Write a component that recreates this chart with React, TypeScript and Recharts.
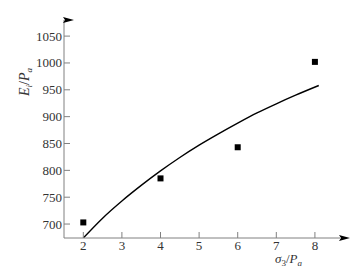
import { ComposedChart, Line, Scatter, XAxis, YAxis } from "recharts";

// measured points (sigma3/Pa vs Ei/Pa)
const pointX = [2, 4, 6, 8];
const pointY = [703, 785, 843, 1002];

// fitted curve
const curveX = [2, 2.5, 3, 3.5, 4, 4.5, 5, 5.5, 6, 6.5, 7, 7.5, 8.1];
const curveY = [674, 711, 743, 772, 799, 824, 847, 868, 888, 907, 924, 940, 958];

const xTicks = [2, 3, 4, 5, 6, 7, 8];
const yTicks = [700, 750, 800, 850, 900, 950, 1000, 1050];

const points = pointX.map((x, i) => ({ x, y: pointY[i] }));
const curve = curveX.map((x, i) => ({ x, y: curveY[i] }));

const axisColor = "#808080";
const textColor = "#333";
const font = "'Liberation Serif', 'DejaVu Serif', serif";

const XTick = (props: any) => {
  const { x, y, payload } = props;
  return (
    <g>
      <line x1={x} y1={y} x2={x} y2={y - 6} stroke={axisColor} />
      <text x={x} y={y + 12} textAnchor="middle" fill={textColor} fontSize={13} style={{ fontFamily: font }}>
        {payload.value}
      </text>
    </g>
  );
};

const YTick = (props: any) => {
  const { x, y, payload } = props;
  return (
    <g>
      <line x1={x} y1={y} x2={x + 6} y2={y} stroke={axisColor} />
      <text x={x - 2} y={y + 4.5} textAnchor="end" fill={textColor} fontSize={13} style={{ fontFamily: font }}>
        {payload.value}
      </text>
    </g>
  );
};

const Square = (props: any) => {
  const { cx, cy } = props;
  return <rect x={cx - 3} y={cy - 3} width={6} height={6} fill="#000" />;
};

const subStyle = { fontSize: 9, verticalAlign: "-3px", lineHeight: 0 };

export default function App() {
  return (
    <div style={{ position: "absolute", left: 0, top: 0, width: 357, height: 267, background: "#fff" }}>
      <svg width={0} height={0} style={{ position: "absolute" }}>
        <defs>
          <marker id="arrowUp" markerUnits="userSpaceOnUse" markerWidth={8} markerHeight={12} refX={4} refY={10} orient="auto">
            <path d="M4,0 L7,11 L4,9 L1,11 Z" fill="#000" />
          </marker>
          <marker id="arrowRight" markerUnits="userSpaceOnUse" markerWidth={12} markerHeight={8} refX={2} refY={4} orient="auto">
            <path d="M12,4 L1,1 L3,4 L1,7 Z" fill="#000" />
          </marker>
        </defs>
      </svg>
      <ComposedChart width={357} height={267} margin={{ top: 20, right: 17, bottom: 0, left: 0 }}>
        <XAxis
          type="number"
          dataKey="x"
          domain={[1.5, 8.65]}
          ticks={xTicks}
          allowDataOverflow
          height={29}
          tickSize={0}
          tickMargin={0}
          tickLine={false}
          tick={<XTick />}
          axisLine={{ stroke: axisColor, markerEnd: "url(#arrowRight)" }}
        />
        <YAxis
          type="number"
          dataKey="y"
          domain={[674, 1080]}
          ticks={yTicks}
          allowDataOverflow
          width={64}
          tickSize={0}
          tickMargin={0}
          tickLine={false}
          tick={<YTick />}
          axisLine={{ stroke: axisColor, markerStart: "url(#arrowUp)" }}
        />
        <Line
          data={curve}
          dataKey="y"
          type="monotone"
          stroke="#000"
          strokeWidth={1.4}
          dot={false}
          activeDot={false}
          isAnimationActive={false}
        />
        <Scatter data={points} dataKey="y" shape={<Square />} isAnimationActive={false} />
      </ComposedChart>
      <div
        style={{
          position: "absolute",
          left: 25,
          top: 82,
          transform: "translate(-50%, -50%) rotate(-90deg)",
          fontFamily: font,
          fontSize: 14,
          lineHeight: "14px",
          color: textColor,
          whiteSpace: "nowrap",
        }}
      >
        <i>E</i>
        <span style={subStyle}>
          <i>i</i>
        </span>
        /<i>P</i>
        <span style={subStyle}>
          <i>a</i>
        </span>
      </div>
      <div
        style={{
          position: "absolute",
          left: 275,
          top: 253,
          fontFamily: font,
          fontSize: 13,
          lineHeight: "12px",
          color: textColor,
          whiteSpace: "nowrap",
        }}
      >
        <i>σ</i>
        <span style={subStyle}>3</span>/<i>P</i>
        <span style={subStyle}>
          <i>a</i>
        </span>
      </div>
    </div>
  );
}
